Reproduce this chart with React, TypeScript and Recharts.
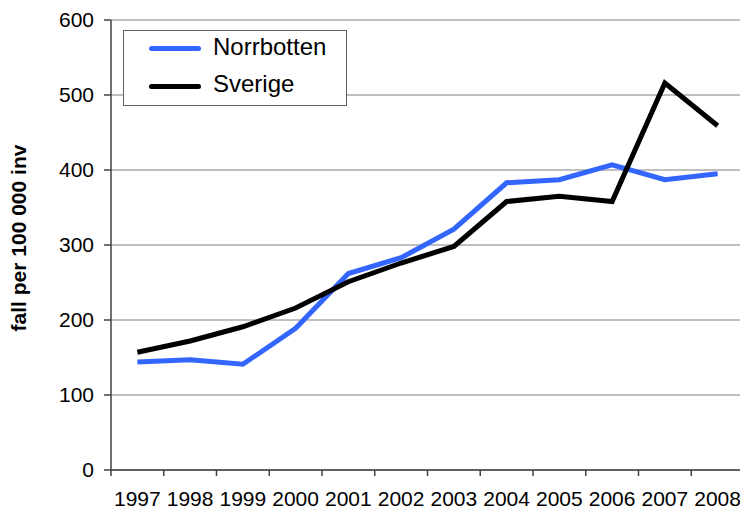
import React from 'react';
import { LineChart, Line, XAxis, YAxis, CartesianGrid, Legend } from 'recharts';

const years = ['1997', '1998', '1999', '2000', '2001', '2002', '2003', '2004', '2005', '2006', '2007', '2008'];
const norrbotten = [144, 147, 141, 189, 262, 283, 321, 383, 387, 407, 387, 395];
const sverige = [157, 172, 191, 216, 251, 276, 298, 358, 365, 358, 516, 459];
const yTicks = [0, 100, 200, 300, 400, 500, 600];

const data = years.map((year, i) => ({ year, norrbotten: norrbotten[i], sverige: sverige[i] }));

const FONT = '"Liberation Sans", Arial, sans-serif';

// x labels centred in each category, tick marks on the category borders
const YearTick = (props: any) => {
  const { x, y, payload } = props;
  const half = payload?.offset ?? 26;
  return (
    <g>
      <line x1={x - half} y1={y} x2={x - half} y2={y + 6} stroke="#404040" strokeWidth={1.5} />
      <text x={x} y={y + 36} textAnchor="middle" fontSize={21} fontFamily={FONT} fill="#000">
        {payload.value}
      </text>
    </g>
  );
};

const LegendBox = (props: any) => {
  const { payload } = props;
  return (
    <div
      style={{
        width: 224,
        height: 76,
        border: '1px solid #606060',
        background: '#fff',
        boxSizing: 'border-box',
        fontFamily: FONT,
      }}
    >
      {(payload || []).map((p: any, i: number) => (
        <div key={p.value} style={{ position: 'relative', height: 38 }}>
          <div
            style={{
              position: 'absolute',
              left: 25,
              top: 15,
              width: 52,
              height: 5,
              borderRadius: 3,
              background: p.color,
            }}
          />
          <span
            style={{
              position: 'absolute',
              left: 89,
              top: i === 0 ? 3 : 2,
              fontSize: 24,
              lineHeight: '26px',
              color: '#000',
            }}
          >
            {p.value}
          </span>
        </div>
      ))}
    </div>
  );
};

const YLabel = (props: any) => {
  const { viewBox } = props;
  const cx = viewBox.x + 18;
  const cy = viewBox.y + viewBox.height / 2 - 7;
  return (
    <text
      x={cx}
      y={cy}
      transform={`rotate(-90 ${cx} ${cy})`}
      textAnchor="middle"
      dominantBaseline="central"
      fontSize={21}
      fontWeight="bold"
      fontFamily={FONT}
      fill="#000"
    >
      fall per 100 000 inv
    </text>
  );
};

export default function App() {
  return (
    <div style={{ position: 'absolute', left: 0, top: 0, width: 740, height: 509, overflow: 'hidden', background: '#fff' }}>
      <LineChart width={744} height={509} data={data} margin={{ top: 20, right: 0, bottom: 0, left: 0 }}>
        <CartesianGrid vertical={false} stroke="#808080" strokeWidth={1} />
        <XAxis
          dataKey="year"
          scale="band"
          height={39}
          interval={0}
          axisLine={{ stroke: '#404040', strokeWidth: 1.5 }}
          tickLine={false}
          tickSize={0}
          tickMargin={0}
          tick={<YearTick />}
        />
        <YAxis
          width={111}
          domain={[0, 600]}
          ticks={yTicks}
          interval={0}
          axisLine={{ stroke: '#404040', strokeWidth: 1.5 }}
          tickLine={{ stroke: '#404040', strokeWidth: 1.5 }}
          tickSize={7}
          tickMargin={10}
          tick={{ fontSize: 21, fontFamily: FONT, fill: '#000' }}
          label={<YLabel />}
        />
        <Legend
          layout="vertical"
          verticalAlign="middle"
          align="center"
          content={<LegendBox />}
          wrapperStyle={{ left: 123, top: 30, width: 224, height: 76 }}
        />
        <Line
          type="linear"
          dataKey="norrbotten"
          name="Norrbotten"
          stroke="#3366ff"
          strokeWidth={5}
          dot={false}
          isAnimationActive={false}
        />
        <Line
          type="linear"
          dataKey="sverige"
          name="Sverige"
          stroke="#000000"
          strokeWidth={5}
          dot={false}
          isAnimationActive={false}
        />
      </LineChart>
    </div>
  );
}
